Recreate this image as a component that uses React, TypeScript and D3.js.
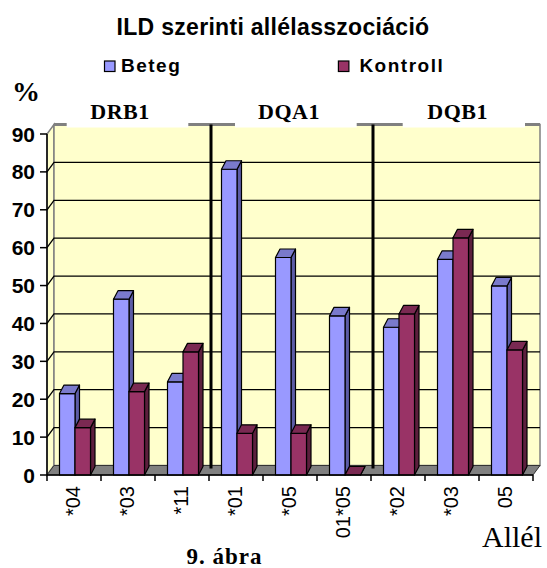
import React, { useEffect, useRef } from 'react';
import * as d3 from 'd3';

const categories = ['*04', '*03', '*11', '*01', '*05', '01*05', '*02', '*03', '05'];
const beteg = [21.5, 46.4, 24.6, 80.7, 57.4, 42, 39, 56.9, 49.9];
const kontroll = [12.5, 22, 32.5, 11, 11, 0, 42.5, 62.6, 33];
const seriesNames = ['Beteg', 'Kontroll'];
const yTicks = [0, 10, 20, 30, 40, 50, 60, 70, 80, 90];
const groups = ['DRB1', 'DQA1', 'DQB1'];

const W = 547;
const H = 568;
const SANS = '"Liberation Sans", Arial, sans-serif';
const SERIF = '"Liberation Serif", "Times New Roman", serif';

// colours per series: front, top, side
const palette = {
  Beteg: { front: '#9999ff', top: '#7a7acc', side: '#5c5ca6' },
  Kontroll: { front: '#993366', top: '#7a2952', side: '#5c1f3d' },
};

export default function App() {
  const svgRef = useRef<SVGSVGElement | null>(null);

  useEffect(() => {
    if (!svgRef.current) return;
    const svg = d3.select(svgRef.current);
    svg.selectAll('*').remove();

    const left = 47, right = 533, base = 475;
    const D = { dx: 7, dy: -9.5 };   // box depth
    const B = { dx: 4.5, dy: -8.5 }; // bar depth

    const y = d3.scaleLinear().domain([0, 90]).range([base, 134]);
    const x = d3.scaleBand<number>().domain(d3.range(categories.length)).range([left, right]);
    const xs = d3.scaleBand<string>().domain(seriesNames).range([12.5, 43.5]);

    const topBack = y(90) + D.dy;
    const floorBack = base + D.dy;

    // walls
    svg.append('polygon')
      .attr('points', [[left, base], [left + D.dx, floorBack], [left + D.dx, topBack], [left, y(90)]].join(' '))
      .attr('fill', '#ffffcc').attr('stroke', '#808080').attr('stroke-width', 1.5);
    svg.append('rect')
      .attr('x', left + D.dx).attr('y', topBack)
      .attr('width', right - left).attr('height', floorBack - topBack)
      .attr('fill', '#ffffcc').attr('stroke', '#808080').attr('stroke-width', 1.5);
    svg.append('line')
      .attr('x1', left + D.dx).attr('x2', right + D.dx)
      .attr('y1', topBack).attr('y2', topBack)
      .attr('stroke', '#808080').attr('stroke-width', 3);

    // floor
    svg.append('polygon')
      .attr('points', [[left, base], [right, base], [right + D.dx, floorBack], [left + D.dx, floorBack]].join(' '))
      .attr('fill', '#808080').attr('stroke', '#333').attr('stroke-width', 1);

    // gridlines
    const grid = svg.append('g').attr('stroke', '#000').attr('stroke-width', 1.3).attr('fill', 'none');
    yTicks.filter(v => v > 0 && v < 90).forEach(v => {
      grid.append('polyline')
        .attr('points', [[left, y(v)], [left + D.dx, y(v) + D.dy], [right + D.dx, y(v) + D.dy]].join(' '));
    });

    // separators between gene groups
    [3, 6].forEach(i => {
      svg.append('line')
        .attr('x1', (x(i) ?? 0) + 2).attr('x2', (x(i) ?? 0) + 2)
        .attr('y1', topBack).attr('y2', floorBack + 3)
        .attr('stroke', '#000').attr('stroke-width', 3);
    });

    // bars
    const bars = svg.append('g').attr('stroke', '#000').attr('stroke-width', 1.2).attr('stroke-linejoin', 'round');
    categories.forEach((_, i) => {
      [beteg[i], kontroll[i]].forEach((v, s) => {
        const key = seriesNames[s] as 'Beteg' | 'Kontroll';
        const c = palette[key];
        const x0 = (x(i) ?? 0) + (xs(key) ?? 0);
        const w = xs.bandwidth();
        const yt = y(v);
        bars.append('polygon')
          .attr('points', [[x0 + w, yt], [x0 + w + B.dx, yt + B.dy], [x0 + w + B.dx, base + B.dy], [x0 + w, base]].join(' '))
          .attr('fill', c.side);
        if (v > 0) {
          bars.append('rect').attr('x', x0).attr('y', yt).attr('width', w).attr('height', base - yt).attr('fill', c.front);
        }
        bars.append('polygon')
          .attr('points', [[x0, yt], [x0 + B.dx, yt + B.dy], [x0 + w + B.dx, yt + B.dy], [x0 + w, yt]].join(' '))
          .attr('fill', c.top);
      });
    });

    // axes
    const yAxis = svg.append('g');
    yAxis.append('line').attr('x1', left).attr('x2', left).attr('y1', y(90)).attr('y2', base)
      .attr('stroke', '#000').attr('stroke-width', 1.5);
    yTicks.forEach(v => {
      yAxis.append('line').attr('x1', 40).attr('x2', left).attr('y1', y(v)).attr('y2', y(v))
        .attr('stroke', '#000').attr('stroke-width', 1.5);
      yAxis.append('text').attr('x', 35).attr('y', y(v)).attr('dy', '0.36em')
        .attr('text-anchor', 'end').attr('font-family', SANS).attr('font-weight', 'bold')
        .attr('font-size', 21).text(v);
    });

    const xAxis = svg.append('g');
    xAxis.append('line').attr('x1', left).attr('x2', right).attr('y1', base).attr('y2', base)
      .attr('stroke', '#000').attr('stroke-width', 1.5);
    d3.range(categories.length + 1).forEach(i => {
      const bx = left + i * x.bandwidth();
      xAxis.append('line').attr('x1', bx).attr('x2', bx).attr('y1', base).attr('y2', base + 6)
        .attr('stroke', '#000').attr('stroke-width', 1.5);
    });
    categories.forEach((c, i) => {
      const cx = (x(i) ?? 0) + x.bandwidth() / 2 - 1.5;
      xAxis.append('text')
        .attr('transform', `translate(${cx},486) rotate(-90)`)
        .attr('dy', '0.35em').attr('text-anchor', 'end')
        .attr('font-family', SANS).attr('font-size', 20).text(c);
    });

    // group header boxes
    const boxes = [[66.7, 188.3], [235, 356.7], [402.7, 525]];
    const labelX = [120, 289, 457.6];
    groups.forEach((g, i) => {
      svg.append('rect').attr('x', boxes[i][0]).attr('y', 112)
        .attr('width', boxes[i][1] - boxes[i][0]).attr('height', 15.5).attr('fill', '#fff');
      svg.append('text').attr('x', labelX[i]).attr('y', 119).attr('text-anchor', 'middle')
        .attr('font-family', SERIF).attr('font-weight', 'bold').attr('font-size', 22)
        .attr('letter-spacing', 0.5).text(g);
    });

    // title + legend
    svg.append('text').attr('x', 273).attr('y', 35).attr('text-anchor', 'middle')
      .attr('font-family', SANS).attr('font-weight', 'bold').attr('font-size', 23)
      .attr('letter-spacing', 0.3).text('ILD szerinti allélasszociáció');

    const legendPos = [{ bx: 104.5, tx: 121 }, { bx: 338.4, tx: 359.4 }];
    seriesNames.forEach((s, i) => {
      const key = s as 'Beteg' | 'Kontroll';
      svg.append('rect').attr('x', legendPos[i].bx).attr('y', 61).attr('width', 10.5).attr('height', 10.5)
        .attr('fill', palette[key].front).attr('stroke', '#000').attr('stroke-width', 1.2);
      svg.append('text').attr('x', legendPos[i].tx).attr('y', 72)
        .attr('font-family', SANS).attr('font-weight', 'bold').attr('font-size', 19)
        .attr('letter-spacing', 1.5).text(s);
    });

    svg.append('text').attr('x', 12).attr('y', 101)
      .attr('font-family', SERIF).attr('font-weight', 'bold').attr('font-size', 28).text('%');
    svg.append('text').attr('x', 542).attr('y', 546.7).attr('text-anchor', 'end')
      .attr('font-family', SERIF).attr('font-size', 30).text('Allél');
    svg.append('text').attr('x', 224.5).attr('y', 564).attr('text-anchor', 'middle')
      .attr('font-family', SERIF).attr('font-weight', 'bold').attr('font-size', 23)
      .attr('letter-spacing', 1).text('9. ábra');
  }, []);

  return (
    <svg ref={svgRef} width={W} height={H}
      style={{ position: 'absolute', left: 0, top: 0, background: '#fff' }} />
  );
}
